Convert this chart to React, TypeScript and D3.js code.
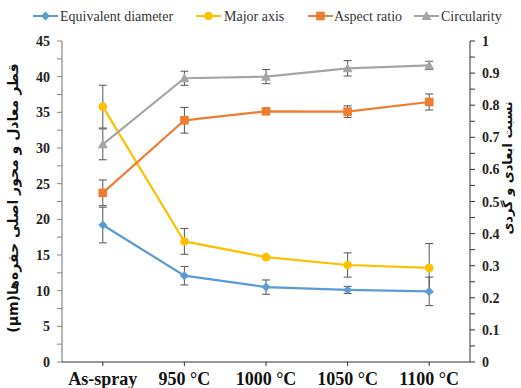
import React from "react";
import * as d3 from "d3";

const categories = ["As-spray", "950 °C", "1000 °C", "1050 °C", "1100 °C"];
const equivalentDiameter = [19.2, 12.1, 10.5, 10.1, 9.9];
const equivalentDiameterErr = [2.5, 1.3, 1.0, 0.5, 2.0];
const majorAxis = [35.8, 16.9, 14.7, 13.6, 13.2];
const majorAxisErr = [3.0, 1.8, 0, 1.7, 3.4];
const aspectRatio = [0.527, 0.753, 0.781, 0.78, 0.81];
const aspectRatioErr = [0.04, 0.04, 0.01, 0.018, 0.025];
const circularity = [0.678, 0.884, 0.889, 0.915, 0.924];
const circularityErr = [0.048, 0.022, 0.022, 0.024, 0.013];
const leftTicks = [0, 5, 10, 15, 20, 25, 30, 35, 40, 45];
const rightTicks = [0, 0.1, 0.2, 0.3, 0.4, 0.5, 0.6, 0.7, 0.8, 0.9, 1];

const W = 521, H = 388;
const x = d3.scaleBand().domain(categories).range([62, 470]).padding(0);
const cx = (c: string) => (x(c) as number) + x.bandwidth() / 2;
const yL = d3.scaleLinear().domain([0, 45]).range([362, 41]);
const yR = d3.scaleLinear().domain([0, 1]).range([362, 41]);

const serif = "'Liberation Serif', 'Times New Roman', serif";

type Series = {
  name: string;
  values: number[];
  err: number[];
  color: string;
  marker: string;
  scale: d3.ScaleLinear<number, number>;
};

const series: Series[] = [
  { name: "Equivalent diameter", values: equivalentDiameter, err: equivalentDiameterErr, color: "#5B9BD5", marker: "diamond", scale: yL },
  { name: "Major axis", values: majorAxis, err: majorAxisErr, color: "#FFC000", marker: "circle", scale: yL },
  { name: "Aspect ratio", values: aspectRatio, err: aspectRatioErr, color: "#ED7D31", marker: "square", scale: yR },
  { name: "Circularity", values: circularity, err: circularityErr, color: "#A5A5A5", marker: "triangle", scale: yR },
];

function Marker({ type, px, py, color }: { type: string; px: number; py: number; color: string }) {
  if (type === "diamond") {
    const s = 4.5;
    return <path d={`M${px},${py - s}L${px + s},${py}L${px},${py + s}L${px - s},${py}Z`} fill={color} />;
  }
  if (type === "circle") return <circle cx={px} cy={py} r={4.3} fill={color} />;
  if (type === "square") return <rect x={px - 4.3} y={py - 4.3} width={8.6} height={8.6} fill={color} />;
  const s = 5;
  return <path d={`M${px},${py - s}L${px + s},${py + s * 0.8}L${px - s},${py + s * 0.8}Z`} fill={color} />;
}

export default function App() {
  const leftMinor = d3.range(0, 45.01, 2.5);
  const rightMinor = d3.range(0, 1.001, 0.05);
  const legendItems = [
    { s: series[0], lx: 33, tx: 60 },
    { s: series[1], lx: 196, tx: 224 },
    { s: series[2], lx: 308, tx: 334 },
    { s: series[3], lx: 414, tx: 441 },
  ];
  return (
    <svg width={W} height={H} style={{ position: "absolute", left: 0, top: 0, background: "#fff" }}>
      <rect width={W} height={H} fill="#fff" />
      {/* legend */}
      {legendItems.map(({ s, lx, tx }) => (
        <g key={s.name}>
          <line x1={lx} x2={lx + 25} y1={16} y2={16} stroke={s.color} strokeWidth={2} />
          <Marker type={s.marker} px={lx + 12.5} py={16} color={s.color} />
          <text x={tx} y={21} fontFamily={serif} fontSize={14} fill="#333">{s.name}</text>
        </g>
      ))}
      {/* left axis */}
      <line x1={62} x2={62} y1={41} y2={362} stroke="#868686" strokeWidth={1.2} />
      {leftMinor.map((v) => (
        <line key={"lm" + v} x1={57} x2={62} y1={yL(v)} y2={yL(v)} stroke="#868686" />
      ))}
      {leftTicks.map((v) => (
        <text key={"lt" + v} x={50} y={yL(v) + 5} textAnchor="end" fontFamily={serif} fontWeight="bold" fontSize={14} fill="#222">{v}</text>
      ))}
      {/* right axis */}
      <line x1={470} x2={470} y1={41} y2={362} stroke="#333" strokeWidth={1} />
      {rightMinor.map((v) => (
        <line key={"rm" + v} x1={470} x2={475} y1={yR(v)} y2={yR(v)} stroke="#333" />
      ))}
      {rightTicks.map((v) => (
        <text key={"rt" + v} x={482} y={yR(v) + 5} textAnchor="start" fontFamily={serif} fontWeight="bold" fontSize={14} fill="#222">{v}</text>
      ))}
      {/* x axis */}
      <line x1={62} x2={470} y1={362} y2={362} stroke="#333" strokeWidth={1} />
      {categories.map((c) => (
        <g key={c}>
          <line x1={cx(c)} x2={cx(c)} y1={362} y2={366} stroke="#333" />
          <text x={cx(c)} y={385} textAnchor="middle" fontFamily={serif} fontWeight="bold" fontSize={18} fill="#111">{c}</text>
        </g>
      ))}
      {/* axis titles */}
      <text transform="translate(18,198) rotate(-90)" textAnchor="middle" direction="rtl" fontFamily="'DejaVu Sans', 'Noto Sans', sans-serif" fontWeight="bold" fontSize={14} fill="#111">
        قطر معادل و محور اصلی حفره‌ها(μm)
      </text>
      <text transform="translate(512,168) rotate(-90)" textAnchor="middle" direction="rtl" fontFamily="'DejaVu Sans', 'Noto Sans', sans-serif" fontWeight="bold" fontSize={13} fill="#111">
        نسبت ابعادی و گردی
      </text>
      {/* lines */}
      {series.map((s) => {
        const line = d3
          .line<number>()
          .x((_, i) => cx(categories[i]))
          .y((v) => s.scale(v));
        return <path key={"l" + s.name} d={line(s.values) || ""} fill="none" stroke={s.color} strokeWidth={2.2} />;
      })}
      {/* error bars */}
      {series.map((s) =>
        s.values.map((v, i) => {
          const e = s.err[i];
          if (!e) return null;
          const px = cx(categories[i]);
          const y1 = s.scale(v + e), y2 = s.scale(v - e);
          return (
            <g key={"e" + s.name + i} stroke="#555" strokeWidth={1}>
              <line x1={px} x2={px} y1={y1} y2={y2} />
              <line x1={px - 4} x2={px + 4} y1={y1} y2={y1} />
              <line x1={px - 4} x2={px + 4} y1={y2} y2={y2} />
            </g>
          );
        })
      )}
      {/* markers */}
      {series.map((s) =>
        s.values.map((v, i) => (
          <Marker key={"m" + s.name + i} type={s.marker} px={cx(categories[i])} py={s.scale(v)} color={s.color} />
        ))
      )}
    </svg>
  );
}
